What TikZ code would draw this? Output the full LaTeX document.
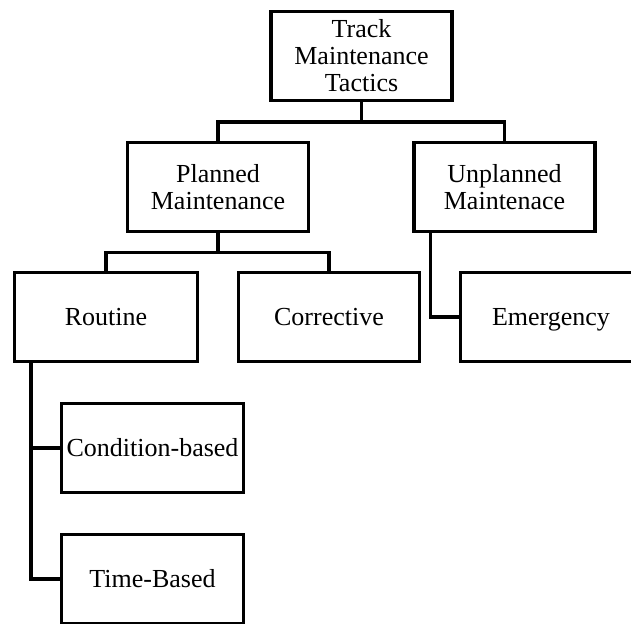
\documentclass[tikz,border=0pt]{standalone}
\usepackage{fontspec}
\setmainfont{Liberation Serif}
\begin{document}
\begin{tikzpicture}[x=1pt,y=-1pt,
  box/.style={draw=black, line width=3.3pt, rectangle, minimum width=181pt,
    minimum height=89pt, inner sep=0pt, align=center,
    font=\fontsize{26}{27}\selectfont},
  link/.style={draw=black, line width=3.3pt, line cap=rect, line join=miter}]
\useasboundingbox (0,0) rectangle (631,623);
\clip (0,0) rectangle (631,623);

% tree nodes
\node[box] (top) at (361.5,56) {Track\\Maintenance\\Tactics};
\node[box] (planned) at (218,186.7) {Planned\\Maintenance};
\node[box] (unplanned) at (504.5,186.7) {Unplanned\\Maintenace};
\node[box, minimum width=183pt] (routine) at (106,317) {Routine};
\node[box] (corrective) at (329,317) {Corrective};
\node[box, text depth=0pt] (emergency) at (551,317) {Emergency};
\node[box, minimum width=182pt] (cond) at (152.5,448) {Condition-based};
\node[box, minimum width=182pt] (time) at (152.5,579) {Time-Based};

% junction points
\coordinate (j1) at (361.5,122);
\coordinate (j2) at (218,252.5);
\coordinate (u0) at ([xshift=18pt]unplanned.south west);
\coordinate (r0) at ([xshift=18pt]routine.south west);

% connectors
\draw[link] (top.south) -- (j1);
\draw[link] (planned.north) |- (j1) -| (unplanned.north);
\draw[link] (planned.south) -- (j2);
\draw[link] (routine.north) |- (j2) -| (corrective.north);
\draw[link] (u0) |- (emergency.west);
\draw[link] (r0) |- (time.west);
\draw[link] (r0 |- cond.west) -- (cond.west);
\end{tikzpicture}
\end{document}
